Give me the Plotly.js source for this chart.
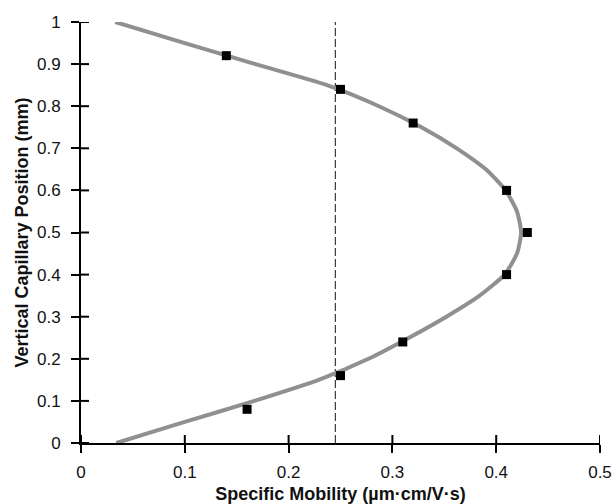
<!DOCTYPE html>
<html>
<head>
<meta charset="utf-8">
<script src="https://cdn.plot.ly/plotly-3.0.1.min.js"></script>
<style>html,body{margin:0;padding:0;background:#fff;}#chart{width:614px;height:504px;}</style>
</head>
<body>
<div id="chart"></div>
<script>
// Measured data points
const pointX = [0.14, 0.25, 0.32, 0.41, 0.43, 0.41, 0.31, 0.25, 0.16];
const pointY = [0.92, 0.84, 0.76, 0.60, 0.50, 0.40, 0.24, 0.16, 0.08];

// Fitted curve
const curveY = [0, 0.05, 0.1, 0.15, 0.2, 0.25, 0.3, 0.35, 0.4, 0.45, 0.5, 0.55, 0.6, 0.65, 0.7, 0.75, 0.8, 0.85, 0.9, 0.95, 1];
const curveX = [0.034, 0.10, 0.167, 0.229, 0.277, 0.316, 0.352, 0.384, 0.408, 0.42, 0.424, 0.42, 0.409, 0.39, 0.362, 0.328, 0.287, 0.237, 0.168, 0.10, 0.033];

// Vertical dashed reference line
const refX = [0.245, 0.245];
const refY = [0, 1];

const xTicks = [0, 0.1, 0.2, 0.3, 0.4, 0.5];
const xTickText = ["0", "0.1", "0.2", "0.3", "0.4", "0.5"];
const yTicks = [0, 0.1, 0.2, 0.3, 0.4, 0.5, 0.6, 0.7, 0.8, 0.9, 1];
const yTickText = ["0", "0.1", "0.2", "0.3", "0.4", "0.5", "0.6", "0.7", "0.8", "0.9", "1"];

const font = "Liberation Sans, Arial, Helvetica, sans-serif";

const traces = [
  {x: refX, y: refY, mode: 'lines', line: {color: '#111', width: 1, dash: '8px,3px'}, hoverinfo: 'skip', showlegend: false},
  {x: curveX, y: curveY, mode: 'lines', line: {color: '#909090', width: 4, shape: 'spline', smoothing: 0.6}, showlegend: false},
  {x: pointX, y: pointY, mode: 'markers', marker: {symbol: 'square', size: 9, color: '#000'}, showlegend: false}
];

// crossing tick marks (inside + outside) built from the tick arrays
const tickShapes = [];
xTicks.forEach(t => tickShapes.push({type: 'line', xref: 'x', yref: 'y', ysizemode: 'pixel', yanchor: 0,
  x0: t, x1: t, y0: -8, y1: 8, line: {color: '#000', width: 2}, layer: 'above'}));
yTicks.forEach(t => tickShapes.push({type: 'line', xref: 'x', yref: 'y', xsizemode: 'pixel', xanchor: 0,
  y0: t, y1: t, x0: -8, x1: 8, line: {color: '#000', width: 2}, layer: 'above'}));

const axisCommon = {
  showgrid: false, zeroline: false, showline: true, linecolor: '#000', linewidth: 2,
  ticks: 'outside', ticklen: 8, tickwidth: 2, tickcolor: '#000',
  tickfont: {family: font, size: 17, color: '#111'}, fixedrange: true
};

const layout = {
  width: 614, height: 504,
  margin: {l: 81, r: 14, t: 22, b: 61},
  paper_bgcolor: '#fff', plot_bgcolor: '#fff',
  showlegend: false,
  shapes: tickShapes,
  xaxis: Object.assign({}, axisCommon, {
    range: [0, 0.5], tickmode: 'array', tickvals: xTicks, ticktext: xTickText, ticklabelstandoff: 5,
    title: {text: '<b>Specific Mobility (µm·cm/V·s)</b>', font: {family: font, size: 18, color: '#111'}, standoff: 7}
  }),
  yaxis: Object.assign({}, axisCommon, {
    range: [0, 1], tickmode: 'array', tickvals: yTicks, ticktext: yTickText, ticklabelstandoff: 7,
    title: {text: '<b>Vertical Capillary Position (mm)</b>', font: {family: font, size: 18, color: '#111'}, standoff: 4}
  })
};

Plotly.newPlot('chart', traces, layout, {displayModeBar: false, staticPlot: true});
</script>
</body>
</html>
